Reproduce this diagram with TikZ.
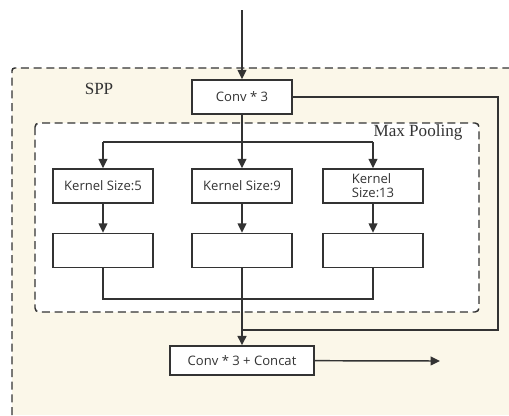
\documentclass[tikz,border=0pt]{standalone}
\usepackage{fontspec}
\newfontfamily\boxfont{Open Sans}
\setmainfont{Liberation Serif}
\usetikzlibrary{arrows.meta, positioning}
\definecolor{cream}{RGB}{251,247,233}
\definecolor{linegray}{RGB}{51,51,51}

\begin{document}
\begin{tikzpicture}[
        x=0.75pt, y=-0.75pt,
        block/.style={rectangle, draw=linegray, fill=white, line width=1.1pt, minimum width=75pt, minimum height=25.5pt, inner sep=2pt, text=linegray, font=\boxfont\fontsize{9.8}{10.5}\selectfont},
        flow/.style={draw=linegray, line width=1.1pt, -{Triangle[length=7pt, width=6.5pt]}},
        link/.style={draw=linegray, line width=1.1pt},
        frame/.style={draw=linegray, line width=1.1pt, dash pattern=on 6pt off 3.5pt},
        title/.style={text=linegray, font=\fontsize{12.8}{14}\selectfont}
    ]
    \useasboundingbox (0,0) rectangle (509,415);

    % SPP region
    \fill[cream] (12,68) rectangle (509,415);
    \draw[frame, rounded corners=2pt] (12,415) -- (12,68) -- (509,68);
    \node[title] (spp) at (99,89) {SPP};

    % Max pooling region
    \draw[frame, fill=white, rounded corners=3pt] (35,123) rectangle (479,312);
    \node[title] (mp) at (418,132) {Max Pooling};

    % blocks
    \node[block] (conv) at (242,97) {Conv * 3};
    \node[block] (k5) at (103,186) {Kernel Size:5};
    \node[block] (k9) at (242,186) {Kernel Size:9};
    \node[block, align=left] (k13) at (373,186) {Kernel\\Size:13};
    \node[block, below=21.75pt of k5] (p5) {};
    \node[block, below=21.75pt of k9] (p9) {};
    \node[block, below=21.75pt of k13] (p13) {};
    \node[block, minimum width=108pt, minimum height=21.75pt] (cat) at (242,360.5) {Conv * 3 + Concat};

    \coordinate (in) at (242,10);
    \coordinate (split) at (242,142);
    \coordinate (merge) at (242,299);
    \coordinate (skip) at (498,330);
    \coordinate (out) at (440,361);

    % connections
    \draw[flow] (in) -- (conv);
    \draw[link] (conv) -- (split);
    \draw[link] (k5 |- split) -- (k13 |- split);
    \foreach \k in {k5,k9,k13}
        \draw[flow] (\k |- split) -- (\k);
    \foreach \k/\p in {k5/p5,k9/p9,k13/p13}
        \draw[flow] (\k) -- (\p);
    \draw[link] (p5) -- (p5 |- merge) -- (p13 |- merge) -- (p13);
    \draw[link] (conv) -| (skip) -- (skip -| cat);
    \draw[flow, line width=1.8pt] (p9) -- (cat);
    \draw[flow] (cat) -- (out);
\end{tikzpicture}
\end{document}
